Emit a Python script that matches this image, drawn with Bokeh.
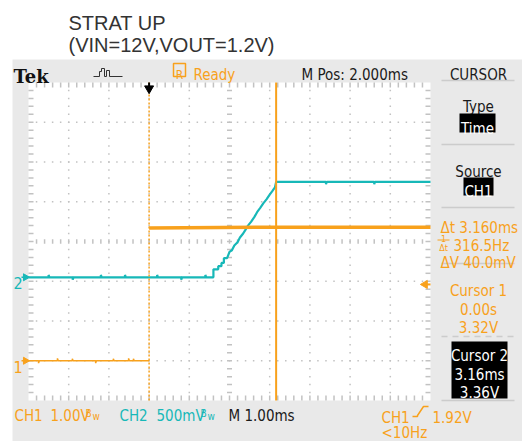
import numpy as np
from bokeh.plotting import figure
from bokeh.models import Range1d
from bokeh.core.properties import value
from bokeh.embed import file_html
from bokeh.resources import INLINE

# ---------------- data ----------------
title_lines = ["STRAT UP", "(VIN=12V,VOUT=1.2V)"]

time_per_div_ms = 1.0
ch1_volts_per_div = 1.0
ch2_volts_per_div = 0.5
ch1_offset_div = -3.0
ch2_offset_div = -0.9
t_start_ms = -3.0
n_hdiv = 10
n_vdiv = 8
trigger_time_ms = 0.0
trigger_level_v = 1.92
cursor_times_ms = [0.0, 3.16]
cursor_volts = [3.32, 3.36]

# CH1 (1 V/div): low before the trigger, high afterwards
ch1_low_t = [-3.0, -2.75, -2.75, -2.73, -2.28, -2.28, -2.26, -1.91, -1.91, -1.89,
             -1.33, -1.33, -1.31, -0.89, -0.89, -0.87, -0.51, -0.51, -0.49,
             -0.39, -0.39, -0.37, 0.0]
ch1_low_v = [0.0, 0.0, -0.06, 0.0, 0.0, 0.06, 0.0, 0.0, 0.05, 0.0,
             0.0, -0.06, 0.0, 0.0, 0.05, 0.0, 0.0, 0.06, 0.0,
             0.0, 0.05, 0.0, 0.0]
ch1_high_t = [0.0, 3.16, 7.0]
ch1_high_v = [3.34, 3.36, 3.36]

# CH2 (500 mV/div): VOUT soft start
ch2_t = [-3.0, -2.5, -2.5, -2.48, -1.9, -1.9, -1.88, -1.2, -1.2, -1.18,
         -0.6, -0.6, -0.58, 0.2, 0.2, 0.22, 0.8, 0.8, 0.82, 1.4, 1.4, 1.42,
         1.60, 1.60, 1.72, 1.72, 1.80, 1.80, 1.86, 1.86, 1.94, 2.00, 2.06,
         2.12, 2.20, 2.26, 2.34, 2.40, 2.46, 2.54, 2.62, 2.70, 2.76, 2.84,
         2.92, 3.00, 3.06, 3.13, 3.16, 4.4, 4.4, 4.42, 5.6, 5.6, 5.62, 7.0]
ch2_v = [0.0, 0.0, 0.03, 0.0, 0.0, -0.03, 0.0, 0.0, 0.03, 0.0,
         0.0, 0.03, 0.0, 0.0, 0.03, 0.0, 0.0, -0.03, 0.0, 0.0, 0.03, 0.0,
         0.00, 0.10, 0.10, 0.14, 0.14, 0.18, 0.18, 0.24, 0.24, 0.32, 0.34,
         0.40, 0.44, 0.50, 0.55, 0.60, 0.65, 0.70, 0.76, 0.83, 0.87, 0.93,
         0.98, 1.04, 1.08, 1.13, 1.20, 1.20, 1.17, 1.20, 1.20, 1.17, 1.20, 1.20]

# ---------------- styling / layout ----------------
ORANGE = "#f8a11c"
CYAN = "#17b8b8"
DARK = "#1a1a1a"
GRAY = "#e9e9e9"
GRID = "#c2c2c2"
SEP = "#cccccc"
FONT = "'Liberation Sans Narrow', 'DejaVu Sans Condensed', 'Roboto Condensed', 'Noto Sans Condensed', Roboto"
FS = 15

W, H = 522, 441
GRID_L, GRID_CY = 28.0, 241.0     # canvas px of grid left edge / vertical centre
DX, DY = 40.2, 39.75              # px per division


def X(px):
    return t_start_ms + (px - GRID_L) / DX * time_per_div_ms


def Y(py):
    return (GRID_CY - py) / DY


def ch1_div(v):
    return [ch1_offset_div + a / ch1_volts_per_div for a in v]


def ch2_div(v):
    return [ch2_offset_div + a / ch2_volts_per_div for a in v]


p = figure(width=W, height=H, output_backend="svg", toolbar_location=None,
           x_axis_type=None, y_axis_type=None,
           x_range=Range1d(X(0), X(W)), y_range=Range1d(Y(H), Y(0)),
           min_border=0, min_border_left=0, min_border_right=0,
           min_border_top=0, min_border_bottom=0)
p.outline_line_color = None
p.background_fill_color = "white"
p.border_fill_color = "white"
p.xgrid.visible = False
p.ygrid.visible = False


def label(px, py, s, color, size=FS, align="left", font=FONT, style="normal"):
    p.text(x=[X(px)], y=[Y(py)], text=[s], text_color=color,
           text_font=value(font), text_font_size=value(f"{size}px"),
           text_align=align, text_baseline="alphabetic", text_font_style=style)


def box(x0, x1, y0, y1, fill):
    p.quad(left=[X(x0)], right=[X(x1)], top=[Y(y0)], bottom=[Y(y1)],
           fill_color=fill, line_color=None)


def hline(x0, x1, py, color, w=1.0, dash="solid"):
    p.segment(x0=[X(x0)], y0=[Y(py)], x1=[X(x1)], y1=[Y(py)],
              line_color=color, line_width=w, line_dash=dash)


# title
label(68, 22.5, title_lines[0], "#333333", 20, font="Liberation Sans")
label(68, 44, title_lines[1], "#333333", 20, font="Liberation Sans")

# scope background
box(12, W, 59, H, GRAY)
t_end = t_start_ms + n_hdiv * time_per_div_ms
half = n_vdiv / 2
p.quad(left=[t_start_ms], right=[t_end], bottom=[-half], top=[half],
       fill_color="white", line_color=None)

# graticule
minor = 0.2
xs_minor = t_start_ms + np.arange(1, n_hdiv * 5) * minor
ys_minor = -half + np.arange(1, n_vdiv * 5) * minor
t_center = t_start_ms + n_hdiv / 2
dx, dy = [], []
for k in range(1, n_hdiv):
    if k == n_hdiv // 2:
        continue
    dx += [t_start_ms + k] * len(ys_minor)
    dy += list(ys_minor)
for j in range(1, n_vdiv):
    yj = -half + j
    if j == n_vdiv // 2:
        continue
    dx += list(xs_minor)
    dy += [yj] * len(xs_minor)
p.rect(x=dx, y=dy, width=1.5, height=1.5, width_units="screen",
       height_units="screen", fill_color=GRID, line_color=None)
# centre cross dashes
p.rect(x=[t_center] * len(ys_minor), y=list(ys_minor), width=5, height=1.5,
       width_units="screen", height_units="screen", fill_color=GRID, line_color=None)
p.rect(x=list(xs_minor), y=[0] * len(xs_minor), width=1.5, height=4.5,
       width_units="screen", height_units="screen", fill_color=GRID, line_color=None)
# edge ticks
tick = 5.0
p.rect(x=list(xs_minor) * 2,
       y=[half - tick / 2 / DY] * len(xs_minor) + [-half + tick / 2 / DY] * len(xs_minor),
       width=1.5, height=tick, width_units="screen", height_units="screen",
       fill_color=GRID, line_color=None)
p.rect(x=[t_start_ms + tick / 2 / DX] * len(ys_minor) + [t_end - tick / 2 / DX] * len(ys_minor),
       y=list(ys_minor) * 2, width=tick, height=1.5, width_units="screen",
       height_units="screen", fill_color=GRID, line_color=None)

# traces
p.line(ch2_t, ch2_div(ch2_v), line_color=CYAN, line_width=2.2)
p.line(ch1_low_t, ch1_div(ch1_low_v), line_color=ORANGE, line_width=1.5)
p.line(ch1_high_t, ch1_div(ch1_high_v), line_color=ORANGE, line_width=3.5)

# cursors
p.segment(x0=[cursor_times_ms[0]], x1=[cursor_times_ms[0]], y0=[-half], y1=[half],
          line_color=ORANGE, line_width=1.5, line_dash="2 2")
p.segment(x0=[cursor_times_ms[1]], x1=[cursor_times_ms[1]], y0=[-half], y1=[half],
          line_color=ORANGE, line_width=2)

# trigger position arrow (top) and trigger level arrow (right)
p.segment(x0=[trigger_time_ms], x1=[trigger_time_ms], y0=[half], y1=[Y(87)],
          line_color="black", line_width=2)
p.scatter(x=[trigger_time_ms], y=[Y(88)], marker="inverted_triangle", size=9,
          fill_color="black", line_color="black")
trig_y = ch1_offset_div + trigger_level_v / ch1_volts_per_div
p.segment(x0=[X(424)], x1=[t_end], y0=[trig_y], y1=[trig_y], line_color=ORANGE, line_width=2)
p.scatter(x=[X(424.5)], y=[trig_y], marker="triangle", angle=np.pi / 2, size=8,
          fill_color=ORANGE, line_color=ORANGE)

# channel ground markers
for off, col, name in [(ch2_offset_div, CYAN, "2"), (ch1_offset_div, ORANGE, "1")]:
    label(13, GRID_CY - off * DY + 6, name, col, 16)
    p.segment(x0=[X(21)], x1=[t_start_ms], y0=[off], y1=[off], line_color=col, line_width=1.5)
    p.scatter(x=[X(25)], y=[off], marker="triangle", angle=-np.pi / 2, size=7,
              fill_color=col, line_color=col)

# top bar
label(13, 76, "Tek", "#111111", 18, font="DejaVu Serif", style="bold")
icon_x = [93, 99, 99, 101, 101, 104, 104, 106, 106, 109, 109, 122]
icon_y = [76, 76, 71, 71, 68, 68, 76, 76, 70, 70, 76, 76]
p.line([X(a) for a in icon_x], [Y(b) for b in icon_y], line_color="#333333", line_width=1)
p.quad(left=[X(173)], right=[X(185)], top=[Y(63)], bottom=[Y(76)],
       fill_color=None, line_color=ORANGE, line_width=1.5)
label(179, 74, "R", ORANGE, 12, align="center")
label(193, 74.5, "Ready", ORANGE)
label(301, 74.5, "M Pos: 2.000ms", DARK)
label(478, 74.5, "CURSOR", DARK, align="center")

# right panel
for yy in [80, 144, 207, 263, 400]:
    hline(441, 514, yy, SEP, 1.5)
hline(441, 514, 336, SEP, 1.5, dash="6 5")
label(478, 106.5, "Type", DARK, align="center")
box(459, 495, 113, 132, "black")
label(477, 128.5, "Time", "white", align="center")
label(478, 171, "Source", DARK, align="center")
box(463, 493, 177, 195, "black")
label(478, 191.5, "CH1", "white", align="center")

dt = cursor_times_ms[1] - cursor_times_ms[0]
dv = (cursor_volts[1] - cursor_volts[0]) * 1000
label(440, 227, f"\u0394t {dt:.3f}ms", ORANGE)
label(443, 238, "1", ORANGE, 9, align="center")
hline(437, 449, 239.5, ORANGE, 1)
label(443, 247, "\u0394t", ORANGE, 9, align="center")
label(453, 245, f"{1000 / dt:.1f}Hz", ORANGE)
label(440, 262, f"\u0394V {dv:.1f}mV", ORANGE)
label(478, 290, "Cursor 1", ORANGE, align="center")
label(478, 309, f"{cursor_times_ms[0]:.2f}s", ORANGE, align="center")
label(478, 327, f"{cursor_volts[0]:.2f}V", ORANGE, align="center")
box(451, 507, 341, 398, "black")
label(479, 355, "Cursor 2", "white", align="center")
label(479, 374, f"{cursor_times_ms[1]:.2f}ms", "white", align="center")
label(479, 392, f"{cursor_volts[1]:.2f}V", "white", align="center")

# bottom status line
label(14, 415.5, "CH1", ORANGE)
label(50, 415.5, f"{ch1_volts_per_div:.2f}V", ORANGE)
label(85, 413, "B", ORANGE, 10)
label(92, 416, "w", ORANGE, 10)
label(119, 415.5, "CH2", CYAN)
label(156, 415.5, f"{ch2_volts_per_div * 1000:.0f}mV", CYAN)
label(200, 413, "B", CYAN, 10)
label(207, 416, "w", CYAN, 10)
label(228, 415.5, f"M {time_per_div_ms:.2f}ms", DARK)
label(381, 417, "CH1", ORANGE)
edge_x = [412, 417, 417, 423, 428]
edge_y = [416, 416, 415, 406, 406]
p.line([X(a) for a in edge_x], [Y(b) for b in edge_y], line_color=ORANGE, line_width=1.5)
label(432, 417, f"{trigger_level_v:.2f}V", ORANGE)
label(381, 432.5, "<10Hz", ORANGE)

open("out.html", "w").write(file_html(p, INLINE))
